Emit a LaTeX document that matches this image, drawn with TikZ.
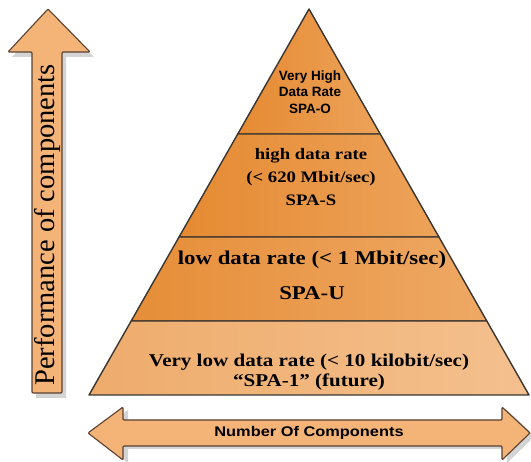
\documentclass[tikz,border=0pt]{standalone}
\usepackage{fontspec}
\setmainfont{Liberation Serif}
\newfontfamily\arialfont{Liberation Sans}
\usetikzlibrary{calc}
\definecolor{pyrline}{HTML}{3A3530}
\definecolor{arrline}{HTML}{5A4030}
\definecolor{arrfill}{HTML}{F4B478}
\definecolor{darkL}{HTML}{E58A32}
\definecolor{darkR}{HTML}{EDA35A}
\definecolor{lightL}{HTML}{EEAC6C}
\definecolor{lightR}{HTML}{F4C08E}
\begin{document}
\begin{tikzpicture}[x=1pt, y=-1pt,
  layer/.style={draw=pyrline, line width=1.4pt, line join=round},
  bigarrow/.style={draw=arrline, line width=1.1pt, fill=arrfill, line join=round, rounded corners=1pt},
  arrshadow/.style={fill=black!17, draw=none},
  rate/.style={inner sep=0pt, align=center, xscale=1.17},
  label/.style={inner sep=0pt, align=center, font=\arialfont\bfseries}
]
\useasboundingbox (0,0) rectangle (531,462);

% pyramid corners and cuts
\coordinate (apex) at (309,9);
\coordinate (bl) at (89,395);
\coordinate (br) at (529,395);
\coordinate (c1l) at ($(apex)!0.3238!(bl)$);
\coordinate (c1r) at ($(apex)!0.3238!(br)$);
\coordinate (c2l) at ($(apex)!0.5907!(bl)$);
\coordinate (c2r) at ($(apex)!0.5907!(br)$);
\coordinate (c3l) at ($(apex)!0.8083!(bl)$);
\coordinate (c3r) at ($(apex)!0.8083!(br)$);

\shadedraw[layer, left color=darkL, right color=darkR] (apex) -- (c1r) -- (c1l) -- cycle;
\shadedraw[layer, left color=darkL, right color=darkR] (c1l) -- (c1r) -- (c2r) -- (c2l) -- cycle;
\shadedraw[layer, left color=darkL!90!lightL, right color=darkR!80!lightR] (c2l) -- (c2r) -- (c3r) -- (c3l) -- cycle;
\shadedraw[layer, left color=lightL, right color=lightR] (c3l) -- (c3r) -- (br) -- (bl) -- cycle;

% vertical arrow
\fill[arrshadow, shift={(4,5)}] (48,9) -- (90,52) -- (62,52) -- (62,393) -- (32,393) -- (32,52) -- (8,52) -- cycle;
\draw[bigarrow] (48,9) -- (90,52) -- (62,52) -- (62,393) -- (32,393) -- (32,52) -- (8,52) -- cycle;

% horizontal arrow
\fill[arrshadow, shift={(5,3)}] (88,433) -- (123,407) -- (123,420) -- (502,420) -- (502,407) -- (530,433)
  -- (502,460) -- (502,446) -- (123,446) -- (123,460) -- cycle;
\draw[bigarrow] (88,433) -- (123,407) -- (123,420) -- (502,420) -- (502,407) -- (530,433)
  -- (502,460) -- (502,446) -- (123,446) -- (123,460) -- cycle;

\node[inner sep=0pt, rotate=90, font=\fontsize{28.5}{30}\selectfont] (perf) at (47,225) {Performance of components};
\node[label, xscale=1.17, font=\arialfont\bfseries\fontsize{14}{16}\selectfont] (number) at (309,433) {Number Of Components};

\node[label, font=\arialfont\bfseries\fontsize{13.5}{16.7}\selectfont] (spao) at (310,92) {Very High\\Data Rate\\SPA-O};
\node[rate, font=\bfseries\fontsize{16}{23}\selectfont] (spas) at (311,177) {high data rate\\(< 620 Mbit/sec)\\SPA-S};
\node[rate, font=\bfseries\fontsize{19.5}{35}\selectfont] (spau) at (312,275) {low data rate (< 1 Mbit/sec)\\SPA-U};
\node[rate, font=\bfseries\fontsize{18}{20}\selectfont] (spa1) at (309,372) {Very low data rate (< 10 kilobit/sec)\\“SPA-1” (future)};
\end{tikzpicture}
\end{document}
